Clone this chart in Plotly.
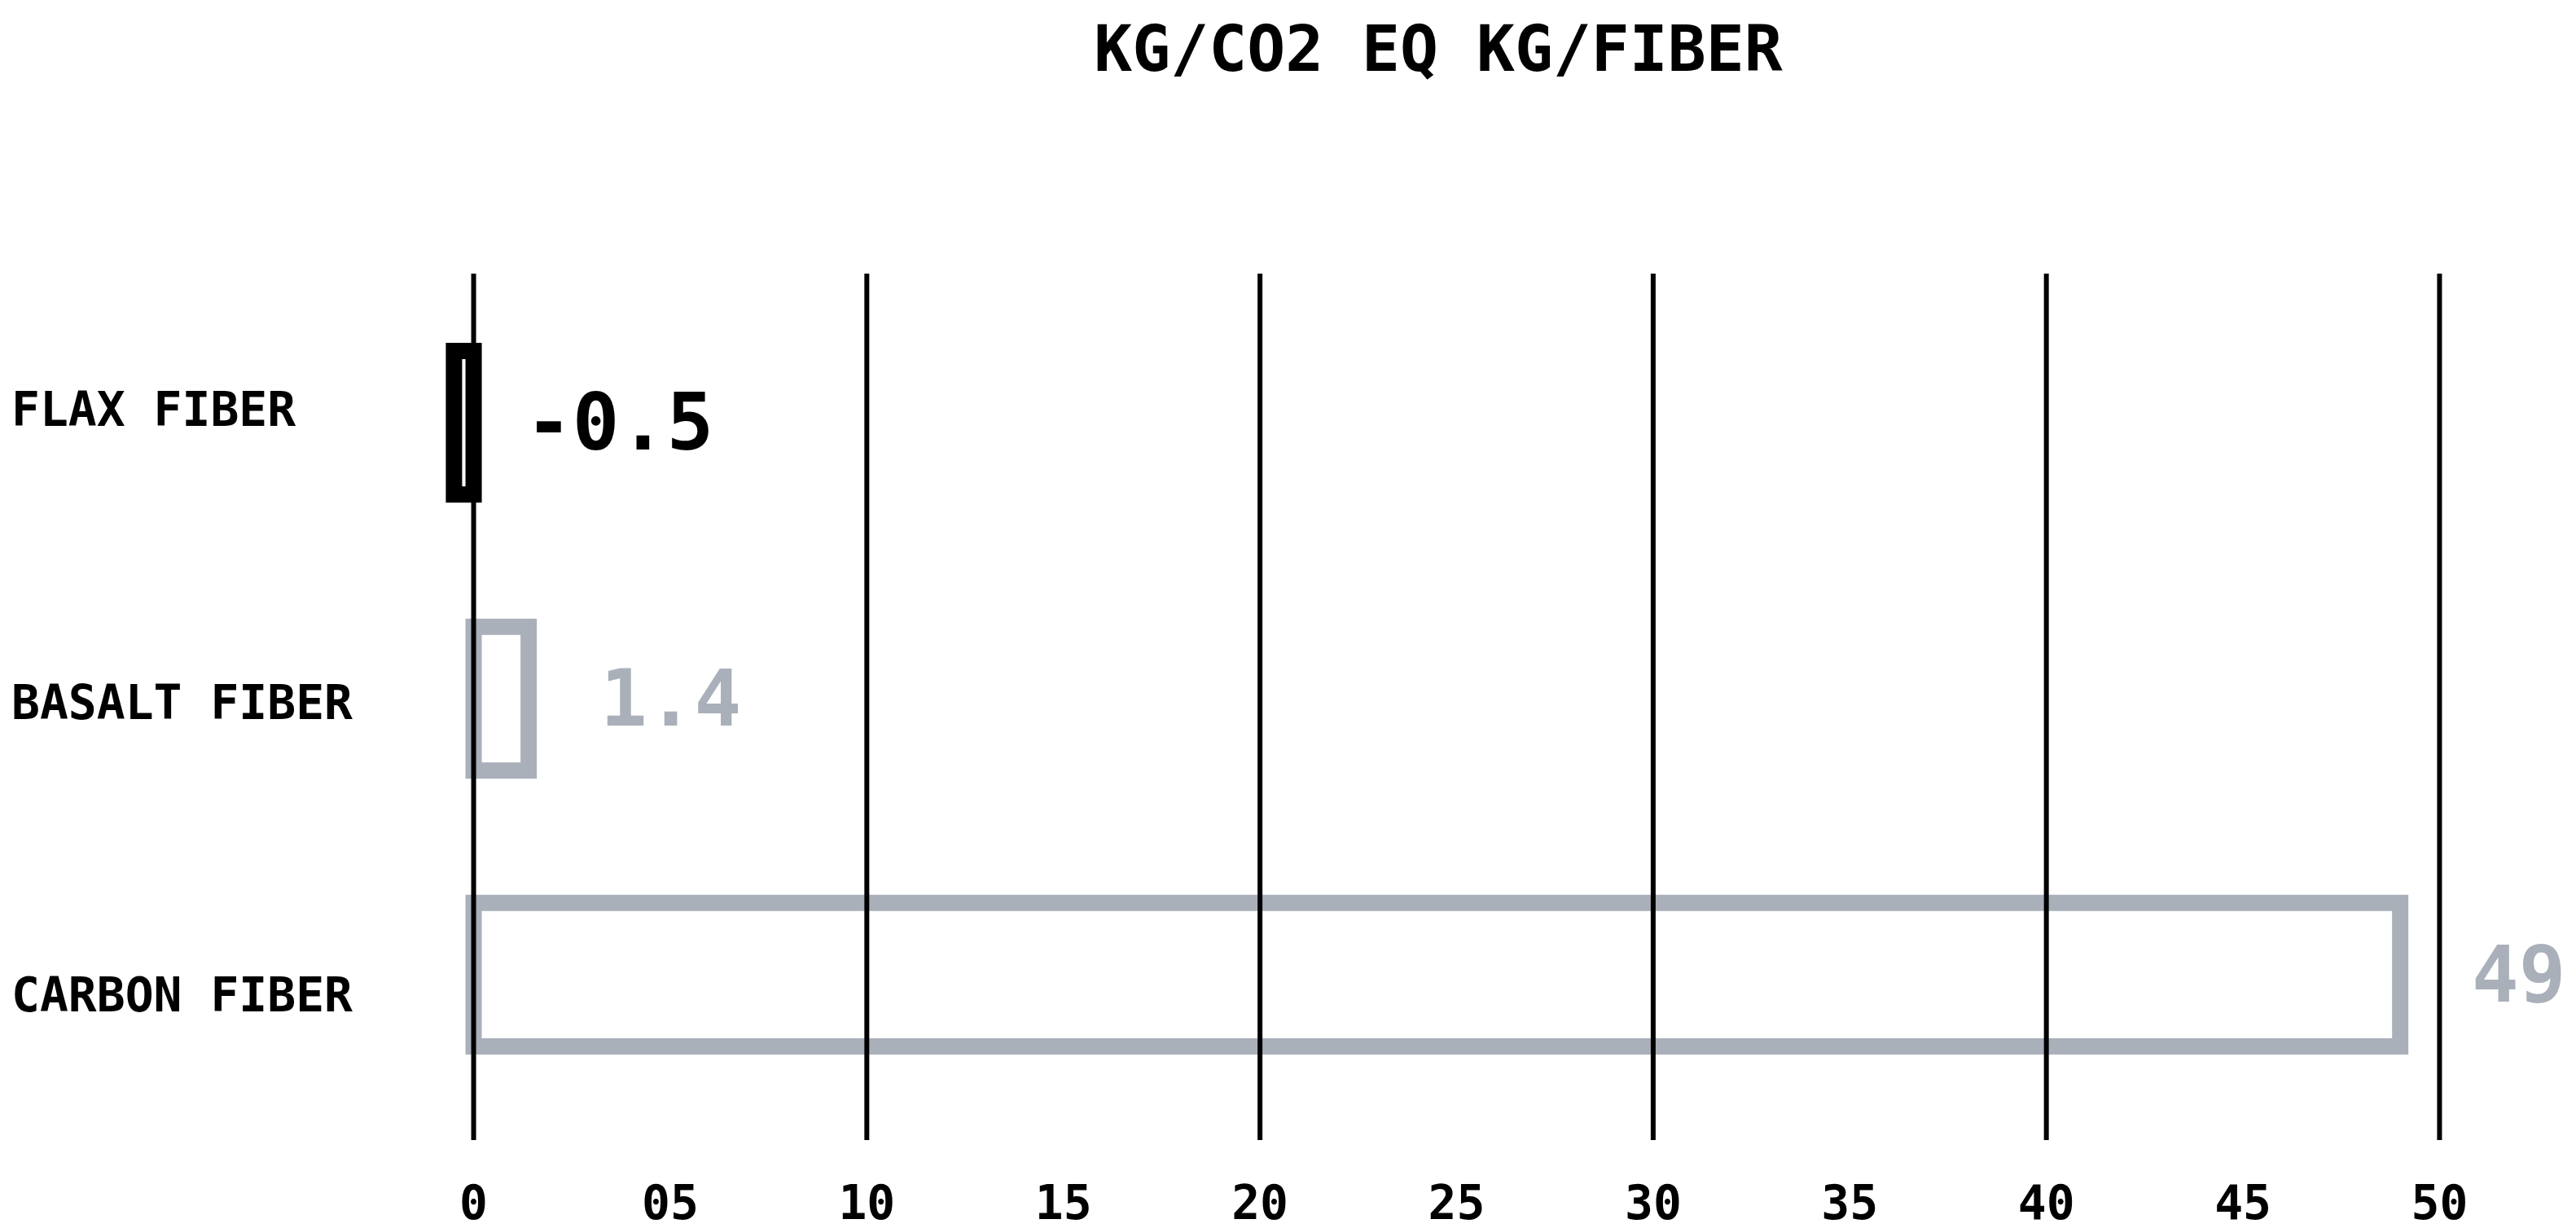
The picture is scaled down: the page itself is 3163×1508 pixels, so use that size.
import plotly.graph_objects as go

# data
fibers = ["FLAX FIBER", "BASALT FIBER", "CARBON FIBER"]
co2_values = [-0.5, 1.4, 49]
bar_colors = ["#000000", "#aab0ba", "#aab0ba"]

tick_values = [0, 5, 10, 15, 20, 25, 30, 35, 40, 45, 50]
tick_labels = ["0", "05", "10", "15", "20", "25", "30", "35", "40", "45", "50"]
grid_values = [0, 10, 20, 30, 40, 50]

MONO = "DejaVu Sans Mono"
# the html page adds an 8px body margin, so margins are offset by it
L, R, T, B = 477, 79, 328, 116
PLOT_W = 3163 - L - R

fig = go.Figure()

# outlined bars, no fill
fig.add_trace(go.Bar(
    x=co2_values,
    y=fibers,
    orientation="h",
    width=0.52,
    marker=dict(color="rgba(0,0,0,0)", line=dict(color=bar_colors, width=20)),
    hoverinfo="x+y",
    showlegend=False,
))

# vertical grid lines drawn above the bars
for g in grid_values:
    fig.add_shape(type="line", xref="x", yref="paper", x0=g, x1=g, y0=0, y1=1,
                  line=dict(color="black", width=6), layer="above")

# category labels, left aligned at the page edge (own, slightly wider spaced row axis)
for i, name in enumerate(fibers):
    fig.add_annotation(
        x=-(L - 4) / PLOT_W, xref="paper", y=i, yref="y2",
        text=name, showarrow=False, xanchor="left", yanchor="middle",
        font=dict(family=MONO, size=58, color="black"),
    )

# value labels next to the bars
for name, v, col in zip(fibers, co2_values, bar_colors):
    fig.add_annotation(
        x=v, xref="x", y=name, yref="y",
        text=f"{v:g}", showarrow=False, xanchor="left", yanchor="middle",
        xshift=86,
        font=dict(family=MONO, size=96, color=col),
    )

fig.update_layout(
    width=3163, height=1508,
    margin=dict(l=L, r=R, t=T, b=B, autoexpand=False),
    plot_bgcolor="white", paper_bgcolor="white",
    title=dict(
        text="<b>KG/CO2 EQ KG/FIBER</b>",
        x=1758 / 3163, xanchor="center", xref="container",
        y=1 - 52 / 1508, yanchor="middle", yref="container",
        font=dict(family=MONO, size=78, color="black"),
    ),
    xaxis=dict(
        range=[-2, 52],
        tickvals=tick_values, ticktext=tick_labels,
        showgrid=False, zeroline=False, showline=False, ticks="",
        ticklabelstandoff=38, automargin=False,
        tickfont=dict(family=MONO, size=58, color="black", weight="bold"),
    ),
    yaxis=dict(
        type="category",
        range=[2.599, -0.540],
        showticklabels=False, showgrid=False, zeroline=False, showline=False,
        automargin=False,
    ),
    yaxis2=dict(
        overlaying="y", range=[2.495, -0.4645], visible=False,
        showgrid=False, zeroline=False, automargin=False,
    ),
    font=dict(family=MONO, weight="bold"),
)

fig.write_html("out.html")
